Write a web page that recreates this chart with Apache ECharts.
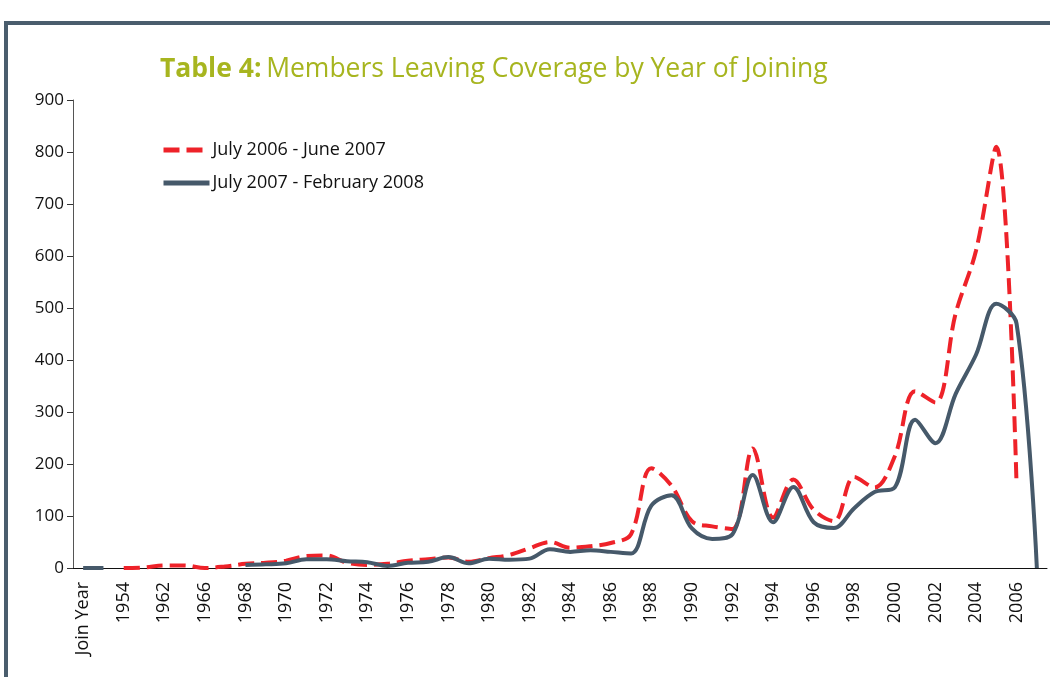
<!DOCTYPE html>
<html><head><meta charset="utf-8">
<script src="https://cdn.jsdelivr.net/npm/echarts@6/dist/echarts.min.js"></script>
<style>html,body{margin:0;padding:0;background:#fff}#c{width:1050px;height:677px}</style>
</head><body><div id="c"></div>
<script>
const categories = ['Join Year','','1954','','1962','','1966','1967','1968','1969','1970','1971','1972','1973','1974','1975','1976','1977','1978','1979','1980','1981','1982','1983','1984','1985','1986','1987','1988','1989','1990','1991','1992','1993','1994','1995','1996','1997','1998','1999','2000','2001','2002','2003','2004','2005','2006','2007'];
const series2006 = [null,null,0,1,5,5,0,3,8,10,14,23,24,10,6,8,14,17,20,12,19,25,38,50,39,42,48,65,192,158,90,80,75,230,97,170,112,90,175,155,215,340,318,490,610,810,160,null];
const series2007 = [0,0,null,null,null,null,null,null,6,7,9,17,17,13,11,4,10,12,21,9,18,16,18,36,31,34,31,28,120,140,76,56,65,179,88,156,88,77,115,146,155,285,240,335,410,508,470,0];
const yTicks = {min:0, max:900, interval:100};
const names = ['July 2006 - June 2007','July 2007 - February 2008'];

const chart = echarts.init(document.getElementById('c'));
const font = "'Open Sans', 'Noto Sans', sans-serif";
chart.setOption({
  animation:false,
  textStyle:{fontFamily:font},
  graphic:[
    {type:'rect', shape:{x:4,y:21,width:1046,height:4}, style:{fill:'#4a5d6d'}},
    {type:'rect', shape:{x:4,y:21,width:4,height:656}, style:{fill:'#4a5d6d'}}
  ],
  title:{
    text:'{b|Table 4:} {n|Members Leaving Coverage by Year of Joining}',
    left:155, top:51,
    textStyle:{rich:{
      b:{fontFamily:font, fontWeight:'bold', fontSize:26.5, color:'#a7b51f'},
      n:{fontFamily:font, fontWeight:'normal', fontSize:26.5, color:'#a7b51f'}
    }}
  },
  legend:{
    orient:'vertical', left:156, top:136, itemGap:15,
    itemWidth:46, itemHeight:14,
    itemStyle:{opacity:0},
    lineStyle:{width:5},
    textStyle:{fontFamily:font, fontSize:18, color:'#111', padding:[0,0,0,-2]},
    data:names
  },
  grid:{left:73, right:3, top:100, bottom:109, containLabel:false},
  xAxis:{
    type:'category', data:categories, boundaryGap:true,
    axisLine:{lineStyle:{color:'#111', width:1}},
    axisTick:{interval:0, length:6, inside:false, lineStyle:{color:'#444'}},
    axisLabel:{interval:1, rotate:90, fontSize:18, color:'#111', margin:14, fontFamily:font},
    splitLine:{show:false}
  },
  yAxis:{
    type:'value', min:yTicks.min, max:yTicks.max, interval:yTicks.interval,
    axisLine:{show:true, lineStyle:{color:'#555', width:1}},
    axisTick:{show:true, length:6, lineStyle:{color:'#333'}},
    axisLabel:{fontSize:17, color:'#111', margin:9, fontFamily:font},
    splitLine:{show:false}
  },
  series:[
    {name:names[0], type:'line', data:series2006, smooth:0.35, symbol:'none', connectNulls:false,
     lineStyle:{color:'#ee2229', width:4, type:[16,7]}, itemStyle:{color:'#ee2229'}},
    {name:names[1], type:'line', data:series2007, smooth:0.35, symbol:'none', connectNulls:false,
     lineStyle:{color:'#46596a', width:4}, itemStyle:{color:'#46596a'}}
  ]
});
</script></body></html>
